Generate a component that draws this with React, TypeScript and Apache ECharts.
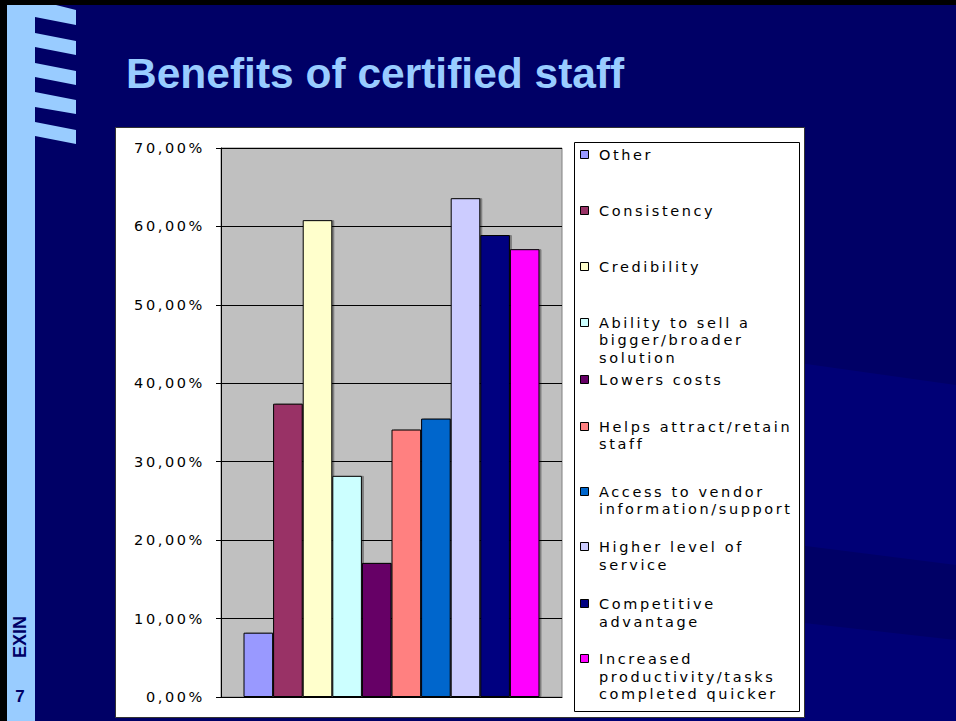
import React, { useEffect, useRef } from "react";
import * as echarts from "echarts";

// ---- data ----
const seriesNames = [
  "Other",
  "Consistency",
  "Credibility",
  "Ability to sell a bigger/broader solution",
  "Lowers costs",
  "Helps attract/retain staff",
  "Access to vendor information/support",
  "Higher level of service",
  "Competitive advantage",
  "Increased productivity/tasks completed quicker",
];
const legendLines = [
  ["Other"],
  ["Consistency"],
  ["Credibility"],
  ["Ability to sell a", "bigger/broader", "solution"],
  ["Lowers costs"],
  ["Helps attract/retain", "staff"],
  ["Access to vendor", "information/support"],
  ["Higher level of", "service"],
  ["Competitive", "advantage"],
  ["Increased", "productivity/tasks", "completed quicker"],
];
const values = [8.2, 37.4, 60.8, 28.2, 17.1, 34.1, 35.5, 63.6, 58.9, 57.1];
const colors = [
  "#9999ff",
  "#993366",
  "#ffffcc",
  "#ccffff",
  "#660066",
  "#ff8080",
  "#0066cc",
  "#ccccff",
  "#000080",
  "#ff00ff",
];
const yMin = 0;
const yMax = 70;
const yStep = 10;
const titleText = "Benefits of certified staff";

// ---- layout (not data) ----
const legendRowY = [155, 210.7, 266.7, 322.7, 380, 426.7, 491.7, 547, 604, 659];
const LEG_FONT = 14.5;
const LEG_LH = 17.5;
const CHART_FONT = "'DejaVu Sans', Verdana, sans-serif";

function buildGraphic() {
  const g: any[] = [];
  const bgZ = -5;
  // subtle swooshes on background
  g.push({
    type: "polygon", z: bgZ, silent: true,
    shape: { points: [[600, 335], [956, 385], [956, 565], [600, 520]] },
    style: { fill: "#000076" },
  });
  g.push({
    type: "polygon", z: bgZ, silent: true,
    shape: { points: [[600, 600], [956, 640], [956, 721], [600, 721]] },
    style: { fill: "#000076" },
  });
  // black frame (top / left)
  g.push({ type: "rect", z: bgZ, silent: true, shape: { x: 0, y: 0, width: 956, height: 5 }, style: { fill: "#000" } });
  g.push({ type: "rect", z: bgZ, silent: true, shape: { x: 0, y: 0, width: 7, height: 721 }, style: { fill: "#000" } });
  // light blue side bar
  g.push({ type: "rect", z: bgZ, silent: true, shape: { x: 7, y: 5, width: 28, height: 716 }, style: { fill: "#99ccff" } });
  // logo stripes
  const stripes = [
    [[35, 5], [56, 5], [76, 10], [76, 25], [35, 17]],
    [[35, 33], [76, 41], [76, 55], [35, 47]],
    [[35, 63], [76, 71], [76, 85], [35, 77]],
    [[35, 92], [76, 100], [76, 114], [35, 107]],
    [[35, 122], [76, 130], [76, 144], [35, 136]],
  ];
  stripes.forEach((pts) =>
    g.push({ type: "polygon", z: bgZ, silent: true, shape: { points: pts }, style: { fill: "#99ccff" } })
  );
  // EXIN vertical label + page number
  g.push({
    type: "text", z: bgZ + 1, silent: true, x: 20, y: 637, rotation: Math.PI / 2,
    style: {
      text: "EXIN", fill: "#000066", font: "bold 18px 'Liberation Sans', Arial, sans-serif",
      align: "center", verticalAlign: "middle",
    },
  });
  g.push({
    type: "text", z: bgZ + 1, silent: true, x: 20, y: 696,
    style: {
      text: "7", fill: "#000066", font: "bold 17px 'Liberation Sans', Arial, sans-serif",
      align: "center", verticalAlign: "middle",
    },
  });
  // title
  g.push({
    type: "text", z: bgZ + 1, silent: true, x: 126, y: 73,
    style: {
      text: titleText, fill: "#99ccff", font: "bold 42.5px 'Liberation Sans', Arial, sans-serif",
      align: "left", verticalAlign: "middle",
    },
  });
  // white chart box
  g.push({
    type: "rect", z: bgZ + 1, silent: true,
    shape: { x: 115.5, y: 127.5, width: 689, height: 590 },
    style: { fill: "#ffffff", stroke: "#333333", lineWidth: 1 },
  });
  // legend box
  g.push({
    type: "rect", z: 5, silent: true,
    shape: { x: 574.5, y: 142.5, width: 225, height: 569 },
    style: { fill: "#ffffff", stroke: "#000000", lineWidth: 1 },
  });
  seriesNames.forEach((_, i) => {
    const cy = legendRowY[i];
    g.push({
      type: "rect", z: 6, silent: true,
      shape: { x: 580.5, y: Math.round(cy - 4) - 0.5, width: 8, height: 8 },
      style: { fill: colors[i], stroke: "#000", lineWidth: 1 },
    });
    g.push({
      type: "text", z: 6, silent: true, x: 599, y: cy - LEG_LH / 2,
      style: {
        text: legendLines[i].join("\n"), fill: "#000",
        fontFamily: CHART_FONT, fontSize: LEG_FONT, lineHeight: LEG_LH,
        align: "left", verticalAlign: "top",
      },
    });
  });
  return g;
}

export default function App() {
  const ref = useRef<HTMLDivElement>(null);
  useEffect(() => {
    if (!ref.current) return;
    const chart = echarts.init(ref.current, undefined, { renderer: "svg", width: 956, height: 721 });
    const option: any = {
      animation: false,
      backgroundColor: "#000066",
      graphic: buildGraphic(),
      grid: {
        left: 221, top: 148, width: 341, height: 549,
        show: true, backgroundColor: "#c0c0c0", borderColor: "#808080", borderWidth: 1,
      },
      xAxis: {
        type: "category",
        data: [""],
        axisLine: { show: true, lineStyle: { color: "#000", width: 1 } },
        axisTick: { show: false },
        axisLabel: { show: false },
        splitLine: { show: false },
      },
      yAxis: {
        type: "value",
        min: yMin, max: yMax, interval: yStep,
        axisLine: { show: true, lineStyle: { color: "#000", width: 1 } },
        axisTick: { show: true, length: 5, lineStyle: { color: "#000" } },
        splitLine: { show: true, lineStyle: { color: "#000", width: 1 } },
        axisLabel: {
          color: "#000", fontFamily: CHART_FONT, fontSize: LEG_FONT, margin: 16,
          padding: [6, 0, 0, 0],
          formatter: (v: number) => v.toFixed(2).replace(".", ",") + "%",
        },
      },
      series: seriesNames.map((n, i) => ({
        type: "bar",
        name: n,
        data: [values[i]],
        barGap: "0%",
        barCategoryGap: "13.2%",
        itemStyle: {
          color: colors[i], borderColor: "#000", borderWidth: 1,
          shadowColor: "rgba(0,0,0,0.35)", shadowOffsetX: 2, shadowOffsetY: 0, shadowBlur: 0,
        },
      })),
    };
    chart.setOption(option);
    return () => chart.dispose();
  }, []);
  return (
    <>
      <style>{`.exin-host text[style*="DejaVu"]{letter-spacing:2.6px;}`}</style>
      <div
        className="exin-host"
        ref={ref}
        style={{ position: "absolute", left: 0, top: 0, width: 956, height: 721 }}
      />
    </>
  );
}
